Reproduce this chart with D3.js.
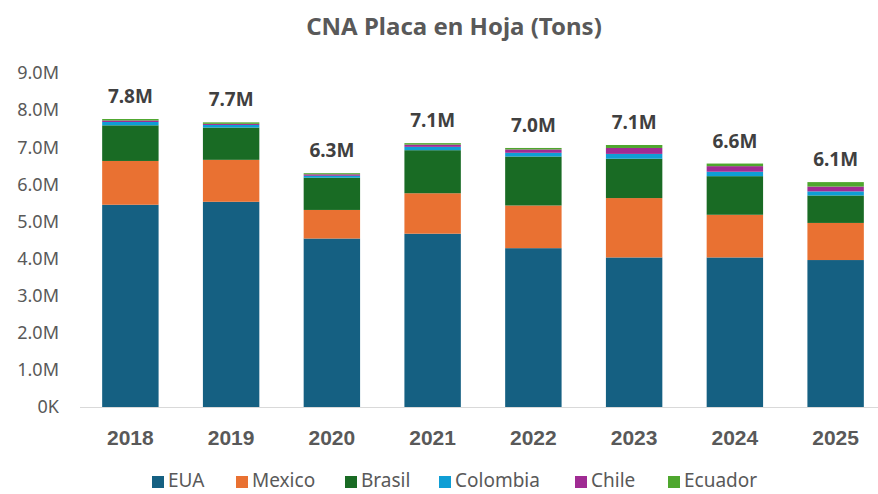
<!DOCTYPE html>
<html>
<head>
<meta charset="utf-8">
<script src="https://cdn.jsdelivr.net/npm/d3@7"></script>
<style>
  body { margin: 0; background: #fff; }
  svg { display: block; }
</style>
</head>
<body>
<svg id="chart" width="878" height="494"></svg>
<script>
// data (tons)
const years = ["2018", "2019", "2020", "2021", "2022", "2023", "2024", "2025"];
const countries = ["EUA", "Mexico", "Brasil", "Colombia", "Chile", "Ecuador"];
const eua      = [5450000, 5530000, 4540000, 4670000, 4280000, 4030000, 4030000, 3960000];
const mexico   = [1180000, 1130000,  770000, 1090000, 1150000, 1600000, 1150000, 1000000];
const brasil   = [ 960000,  870000,  870000, 1160000, 1320000, 1060000, 1040000,  740000];
const colombia = [  90000,   70000,   50000,   90000,  100000,  130000,  120000,  110000];
const chile    = [  40000,   30000,   40000,   60000,   90000,  160000,  150000,  130000];
const ecuador  = [  40000,   40000,   30000,   40000,   40000,   80000,   70000,  120000];
const yTicks = [0, 1e6, 2e6, 3e6, 4e6, 5e6, 6e6, 7e6, 8e6, 9e6];
const colors = ["#156082", "#e97132", "#196b24", "#0f9ed5", "#a02b93", "#4ea72e"];

const series = [eua, mexico, brasil, colombia, chile, ecuador];
let rows = years.map((yr, i) => {
  let r = { year: yr };
  countries.forEach((c, j) => r[c] = series[j][i]);
  return r;
});

const svg = d3.select('#chart');
const font = "'Noto Sans', 'Open Sans', sans-serif";

let x = d3.scaleBand().domain(years).range([80, 886]).paddingInner(0.44).paddingOuter(0.22);
let y = d3.scaleLinear().domain([0, 9e6]).range([407, 73]);

let stack = d3.stack().keys(countries);
let stacked = stack(rows);

// title
svg.append('text')
  .attr('x', 454).attr('y', 35)
  .attr('text-anchor', 'middle')
  .attr('font-family', font).attr('font-weight', 'bold')
  .attr('font-size', 24).attr('fill', '#595959')
  .text('CNA Placa en Hoja (Tons)');

// y axis labels
svg.append('g').selectAll('text')
  .data(yTicks).join('text')
  .attr('x', 59).attr('y', d => y(d))
  .attr('dy', '0.35em')
  .attr('text-anchor', 'end')
  .attr('font-family', font).attr('font-size', 18)
  .attr('fill', '#595959')
  .text(d => d === 0 ? '0K' : (d / 1e6).toFixed(1) + 'M');

// bars
svg.append('g').selectAll('g')
  .data(stacked).join('g')
  .attr('fill', (d, i) => colors[i])
  .selectAll('rect')
  .data(d => d).join('rect')
  .attr('x', d => x(d.data.year))
  .attr('width', x.bandwidth())
  .attr('y', d => y(d[1]))
  .attr('height', d => y(d[0]) - y(d[1]));

// baseline
svg.append('line')
  .attr('x1', 80).attr('x2', 878)
  .attr('y1', y(0) + 0.5).attr('y2', y(0) + 0.5)
  .attr('stroke', '#d9d9d9').attr('stroke-width', 1);

// totals
svg.append('g').selectAll('text')
  .data(rows).join('text')
  .attr('x', d => x(d.year) + x.bandwidth() / 2)
  .attr('y', d => y(d3.sum(countries, c => d[c])) - 16)
  .attr('text-anchor', 'middle')
  .attr('font-family', font).attr('font-weight', 'bold')
  .attr('font-size', 19).attr('fill', '#404040')
  .text(d => (d3.sum(countries, c => d[c]) / 1e6).toFixed(1) + 'M');

// x labels
svg.append('g').selectAll('text')
  .data(years).join('text')
  .attr('x', d => x(d) + x.bandwidth() / 2)
  .attr('y', 445)
  .attr('text-anchor', 'middle')
  .attr('font-family', "'Liberation Sans', Arial, sans-serif").attr('font-weight', 'bold')
  .attr('font-size', 21).attr('fill', '#595959')
  .text(d => d);

// legend
const legendX = [152, 236, 345, 439, 575, 668];
let legend = svg.append('g');
countries.forEach((c, i) => {
  legend.append('rect')
    .attr('x', legendX[i]).attr('y', 476)
    .attr('width', 12).attr('height', 12)
    .attr('fill', colors[i]);
  legend.append('text')
    .attr('x', legendX[i] + 16).attr('y', 487)
    .attr('font-family', font).attr('font-size', 19)
    .attr('fill', '#595959')
    .text(c);
});
</script>
</body>
</html>
